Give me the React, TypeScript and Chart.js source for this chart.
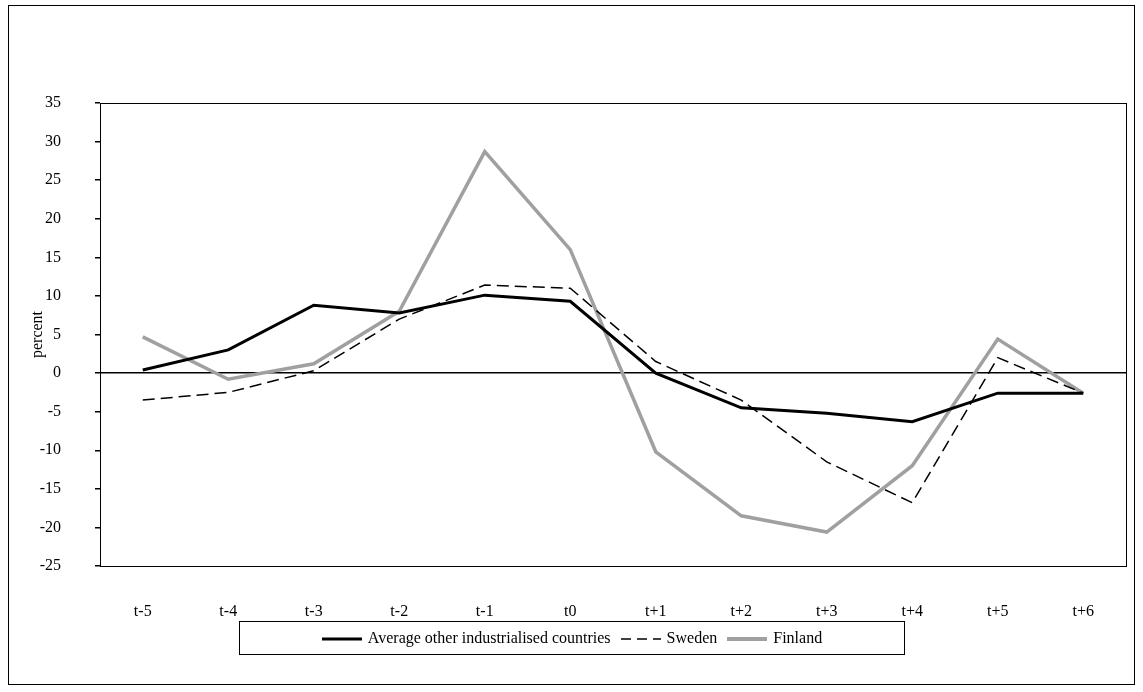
import React, { useRef, useEffect } from 'react';
import { Chart, registerables, Plugin } from 'chart.js';

Chart.register(...registerables);

const categories = ['t-5', 't-4', 't-3', 't-2', 't-1', 't0', 't+1', 't+2', 't+3', 't+4', 't+5', 't+6'];
const averageOther = [0.4, 3.0, 8.8, 7.8, 10.1, 9.3, 0, -4.5, -5.2, -6.3, -2.6, -2.6];
const sweden = [-3.5, -2.5, 0.3, 7.0, 11.4, 11.0, 1.5, -3.5, -11.5, -16.8, 2.0, -2.6];
const finland = [4.7, -0.8, 1.2, 8.0, 28.7, 16.0, -10.2, -18.5, -20.6, -12.0, 4.4, -2.6];

const FONT = '"Liberation Serif", "Times New Roman", serif';

const frame: Plugin = {
  id: 'frame',
  afterDraw(chart) {
    const { ctx, chartArea: a } = chart;
    ctx.save();
    ctx.strokeStyle = '#000';
    ctx.lineWidth = 1;
    ctx.strokeRect(a.left + 0.5, a.top + 0.5, a.right - a.left, a.bottom - a.top);
    ctx.fillStyle = '#000';
    ctx.font = `16px ${FONT}`;
    ctx.translate(29, (a.top + a.bottom) / 2);
    ctx.rotate(-Math.PI / 2);
    ctx.textAlign = 'center';
    ctx.textBaseline = 'middle';
    ctx.fillText('percent', 0, 0);
    ctx.restore();
  },
};

const App: React.FC = () => {
  const chartRef = useRef<HTMLCanvasElement>(null);

  useEffect(() => {
    if (!chartRef.current) return;
    const chart = new Chart(chartRef.current, {
      type: 'line',
      data: {
        labels: categories,
        datasets: [
          { label: 'Average other industrialised countries', data: averageOther, borderColor: '#000', borderWidth: 3, pointRadius: 0, tension: 0 },
          { label: 'Sweden', data: sweden, borderColor: '#000', borderWidth: 1.5, borderDash: [12, 6], pointRadius: 0, tension: 0 },
          { label: 'Finland', data: finland, borderColor: '#a0a0a0', borderWidth: 3.5, pointRadius: 0, tension: 0 },
        ],
      },
      options: {
        responsive: false,
        animation: false,
        layout: { padding: { top: 97, right: 8, left: 0, bottom: 0 } },
        plugins: { legend: { display: false }, tooltip: { enabled: false } },
        scales: {
          x: {
            offset: true,
            grid: { display: false },
            border: { display: false },
            ticks: { color: '#000', font: { family: FONT, size: 16 }, padding: 28, maxRotation: 0 },
            afterFit: (s: any) => { s.height = 60; },
          },
          y: {
            min: -25,
            max: 35,
            grid: {
              color: (c: any) => (c.tick && c.tick.value === 0 ? '#000' : 'rgba(0,0,0,0)'),
              lineWidth: 1.5,
              tickColor: '#000',
              tickLength: 5,
            },
            border: { display: false },
            ticks: { stepSize: 5, color: '#000', font: { family: FONT, size: 16 }, padding: 34 },
            afterFit: (s: any) => { s.width = 91; },
          },
        },
      },
      plugins: [frame],
    });
    return () => chart.destroy();
  }, []);

  const sample = (stroke: string, width: number, dash?: string) => (
    <svg width={40} height={8} style={{ verticalAlign: 'middle', marginRight: 6 }}>
      <line x1={0} y1={4} x2={40} y2={4} stroke={stroke} strokeWidth={width} strokeDasharray={dash} />
    </svg>
  );

  return (
    <div style={{ position: 'absolute', left: 8, top: 5, width: 1127, height: 680, border: '1px solid #000', boxSizing: 'border-box', background: '#fff' }}>
      <canvas ref={chartRef} width={1125} height={620} style={{ position: 'absolute', left: 0, top: 0 }} />
      <div style={{ position: 'absolute', left: 230, top: 615, width: 666, height: 34, border: '1px solid #000', boxSizing: 'border-box', display: 'flex', alignItems: 'center', justifyContent: 'center', fontFamily: FONT, fontSize: 16, gap: 10 }}>
        <span>{sample('#000', 3)}Average other industrialised countries</span>
        <span>{sample('#000', 1.5, '10 6')}Sweden</span>
        <span>{sample('#a0a0a0', 4)}Finland</span>
      </div>
    </div>
  );
};

export default App;
